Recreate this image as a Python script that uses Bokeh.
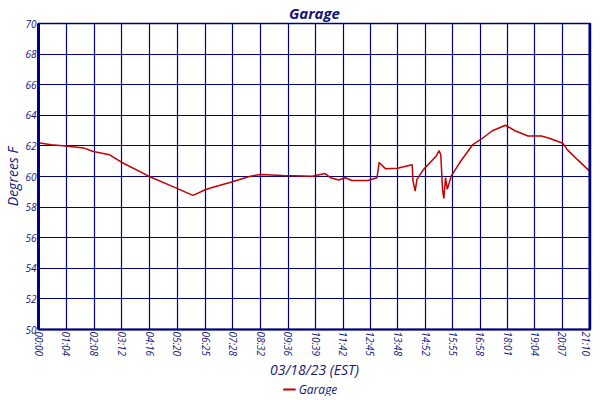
from bokeh.plotting import figure
from bokeh.layouts import column
from bokeh.models import FixedTicker, Range1d, Legend, LegendItem, Span
from bokeh.embed import file_html
from bokeh.resources import INLINE

tick_labels = ["00:00", "01:04", "02:08", "03:12", "04:16", "05:20", "06:25", "07:28",
               "08:32", "09:36", "10:39", "11:42", "12:45", "13:48", "14:52", "15:55",
               "16:58", "18:01", "19:04", "20:07", "21:10"]
y_ticks = [50, 52, 54, 56, 58, 60, 62, 64, 66, 68, 70]

minutes = [0, 29, 63, 104, 126, 164, 190, 254, 315, 356, 383, 398, 443, 488, 511, 563,
           631, 660, 673, 692, 707, 722, 759, 780, 785, 800, 827, 861, 863, 868, 872,
           887, 917, 923, 927, 931, 934, 938, 942, 951, 970, 1000, 1023, 1046, 1076,
           1098, 1128, 1159, 1177, 1208, 1219, 1242, 1270]
temps = [62.21, 62.08, 62.0, 61.87, 61.63, 61.42, 60.95, 60.02, 59.27, 58.77, 59.12,
         59.27, 59.63, 60.02, 60.13, 60.06, 60.02, 60.19, 59.92, 59.77, 59.92, 59.74,
         59.74, 59.92, 60.92, 60.50, 60.54, 60.77, 59.70, 59.05, 59.81, 60.45, 61.35,
         61.70, 61.42, 59.16, 58.56, 59.92, 59.16, 60.02, 60.88, 62.06, 62.50, 62.99,
         63.35, 62.99, 62.65, 62.65, 62.50, 62.17, 61.74, 61.10, 60.35]
series_name = "Garage"

def to_min(s):
    h, m = s.split(":")
    return int(h) * 60 + int(m)

x_ticks = [to_min(t) for t in tick_labels]
X_END = 1272

NAVY = "#000080"
TEXT = "#14147a"
RED = "#c40000"
FONT = "Open Sans"

p = figure(frame_width=552, frame_height=306, output_backend="svg", toolbar_location=None,
           x_range=Range1d(0, X_END), y_range=Range1d(50, 70),
           min_border_left=30, min_border_right=2, min_border_top=14, min_border_bottom=0)

p.line(minutes, temps, line_color=RED, line_width=1.5)

p.title.text = "Garage"
p.title.align = "center"
p.title.text_font = FONT
p.title.text_font_style = "bold italic"
p.title.text_font_size = "15px"
p.title.text_color = TEXT
p.title.offset = 0
p.title.standoff = 1

p.xaxis.ticker = FixedTicker(ticks=x_ticks)
p.xaxis.major_label_overrides = {x: t for x, t in zip(x_ticks, tick_labels)}
p.xaxis.major_label_orientation = "vertical"
p.yaxis.ticker = FixedTicker(ticks=y_ticks)

for ax in (p.xaxis[0], p.yaxis[0]):
    ax.major_tick_out = 0
    ax.major_tick_in = 0
    ax.minor_tick_out = 0
    ax.minor_tick_in = 0
    ax.axis_line_color = NAVY
    ax.major_label_text_font = FONT
    ax.major_label_text_font_style = "italic"
    ax.major_label_text_font_size = "10px"
    ax.major_label_text_color = TEXT
    ax.axis_label_text_font = FONT
    ax.axis_label_text_font_style = "italic"
    ax.axis_label_text_font_size = "14px"
    ax.axis_label_text_color = TEXT
    ax.major_label_standoff = 2
    ax.axis_label_standoff = 2

p.yaxis.axis_line_width = 3
p.xaxis.axis_line_width = 2
p.xaxis.axis_label = "03/18/23 (EST)"
p.xaxis.axis_label_standoff = 1
p.yaxis.axis_label = "Degrees F"
p.yaxis.axis_label_standoff = 0

p.xgrid.grid_line_color = NAVY
p.ygrid.grid_line_color = NAVY
p.xgrid.grid_line_width = 1.2
p.ygrid.grid_line_width = 1.2
p.outline_line_color = NAVY
p.outline_line_width = 1.5

p.add_layout(Span(location=X_END, dimension="height", line_color=NAVY, line_width=4))

# legend strip below the chart (its key line shares the series' data; the
# strip's ranges keep the line itself out of view so only the key is drawn)
lg = figure(width=584, height=14, output_backend="svg", toolbar_location=None,
            x_range=Range1d(-2, -1), y_range=Range1d(0, 1), min_border=0)
lg.axis.visible = False
lg.grid.visible = False
lg.outline_line_color = None
key = lg.line(minutes, temps, line_color=RED, line_width=2)
legend = Legend(items=[LegendItem(label=series_name, renderers=[key])],
                orientation="horizontal", location="center",
                label_text_font=FONT, label_text_font_style="italic",
                label_text_font_size="12px", label_text_color=TEXT,
                border_line_color=None, background_fill_alpha=0,
                padding=0, margin=0, spacing=0, label_height=13, glyph_height=13,
                glyph_width=13, label_standoff=3)
lg.add_layout(legend)

layout = column(p, lg, spacing=0)
open("out.html", "w").write(file_html(layout, INLINE))
